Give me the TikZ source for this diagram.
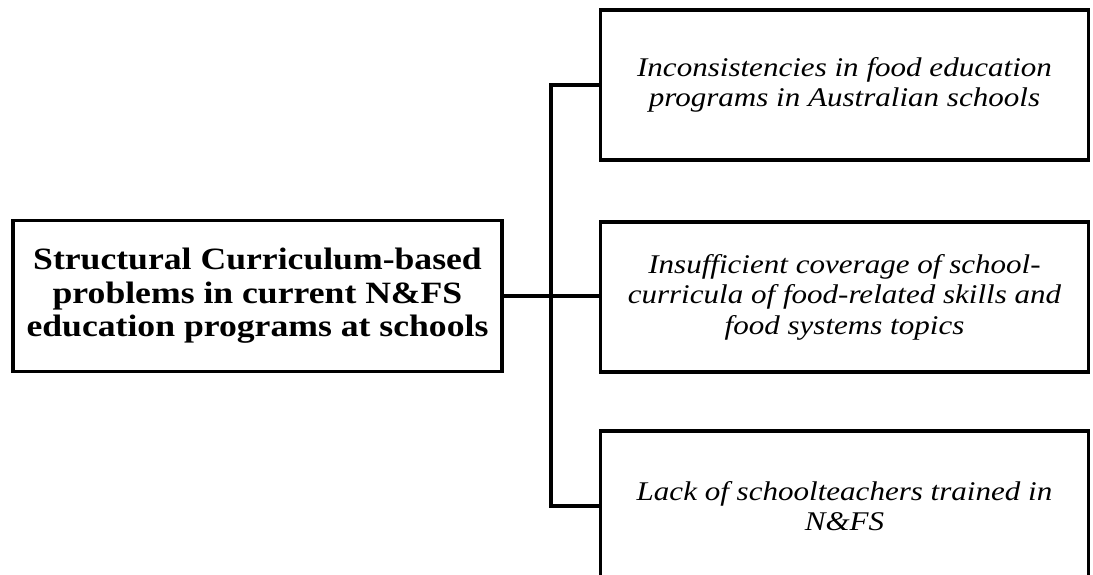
\documentclass[tikz,border=0pt]{standalone}
\usepackage{fontspec}
\setmainfont{Liberation Serif}[FakeStretch=1.15]
\begin{document}
\begin{tikzpicture}[x=1pt,y=-1pt,
  box/.style={draw, line width=3.6pt, align=center, inner sep=0pt},
  lbox/.style={box, minimum width=489pt, minimum height=151pt, font=\fontsize{31}{33.5}\selectfont\bfseries},
  rbox/.style={box, minimum width=488pt, minimum height=150pt, font=\fontsize{27}{30.5}\selectfont\itshape},
  conn/.style={line width=3.6pt}]
\useasboundingbox (0,0) rectangle (1093,575);
\clip (0,0) rectangle (1093,575);
\node[lbox] (L) at (257.5,296) {Structural Curriculum-based\\problems in current N\&FS\\education programs at schools};
\node[rbox] (b1) at (844.5,85) {Inconsistencies in food education\\programs in Australian schools};
\node[rbox] (b2) at (844.5,297) {Insufficient coverage of school-\\curricula of food-related skills and\\food systems topics};
\node[rbox] (b3) at (844.5,506) {Lack of schoolteachers trained in\\N\&FS};
\coordinate (j) at (551,296);
\draw[conn] (L.east) -- (j) -- (j -| b2.west);
\draw[conn] (b1.west) -- (b1.west -| j) -- (b3.west -| j) -- (b3.west);
\end{tikzpicture}
\end{document}
